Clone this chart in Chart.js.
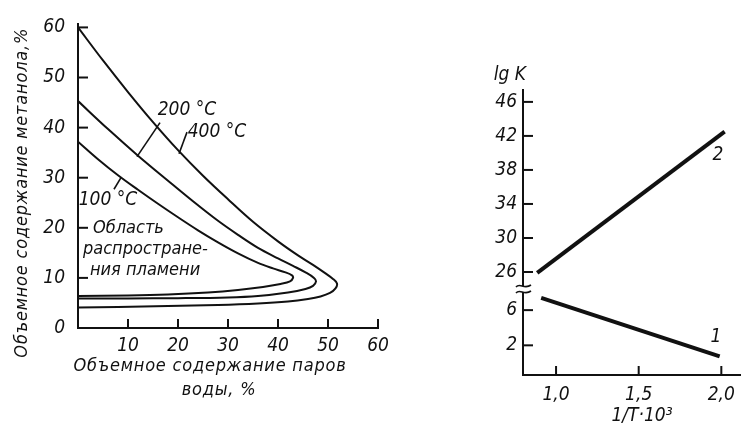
<!DOCTYPE html>
<html>
<head>
<meta charset="utf-8">
<script src="https://cdn.jsdelivr.net/npm/chart.js@4.4.1/dist/chart.umd.min.js"></script>
<style>
  html, body { margin: 0; padding: 0; background: #fff; }
  #wrap { position: relative; width: 744px; height: 427px; overflow: hidden; }
  .panel { position: absolute; top: 0; height: 427px; }
</style>
</head>
<body>
<div id="wrap">
  <div class="panel" style="left:0;width:400px"><canvas id="flame"></canvas></div>
  <div class="panel" style="left:440px;width:304px"><canvas id="lgk"></canvas></div>
</div>
<script>
const FONT = "'DejaVu Sans Condensed', 'Liberation Sans Narrow', sans-serif";
const INK = "#111";

// left panel: flame region, water vapour % (x) vs methanol % (y)
const waterTicks = [10, 20, 30, 40, 50, 60];
const methanolTicks = [0, 10, 20, 30, 40, 50, 60];

const water400 = [0, 5, 10, 15, 20, 25, 30, 35, 40, 44, 47, 49.5, 51, 51.8, 51.5, 50.4, 48.5, 46, 42, 36, 28, 18, 8, 0];
const methanol400 = [60, 53.4, 47.1, 41.1, 35.5, 30.4, 25.7, 21.2, 17.3, 14.5, 12.6, 10.9, 9.8, 8.9, 7.9, 7.0, 6.3, 5.8, 5.3, 4.9, 4.6, 4.4, 4.2, 4.1];

const water200 = [0, 6, 12, 18, 23, 28, 32, 36, 40, 43, 45.5, 47.2, 47.6, 47, 45.5, 42, 36, 30, 20, 10, 0];
const methanol200 = [45.3, 39.7, 34.4, 29.4, 25.3, 21.4, 18.6, 16.0, 13.9, 12.4, 11.1, 10.0, 9.3, 8.4, 7.8, 7.1, 6.4, 6.1, 5.95, 5.9, 5.9];

const water100 = [0, 4, 8, 12, 16, 20, 24, 28, 32, 36, 39, 41.5, 42.8, 43, 42.4, 40.5, 37, 32, 26, 18, 10, 0];
const methanol100 = [37.2, 33.7, 30.5, 27.6, 24.8, 22.1, 19.5, 17.1, 14.9, 13.0, 11.9, 11.1, 10.5, 10.0, 9.3, 8.8, 8.2, 7.6, 7.1, 6.7, 6.5, 6.4];

// right panel: lg K vs 1/T*10^3
const invTTicks = [1.0, 1.5, 2.0];
const lgkUpperTicks = [26, 30, 34, 38, 42, 46];
const lgkLowerTicks = [2, 6];

const invT1 = [0.91, 1.99];
const lgk1 = [7.4, 0.75];
const invT2 = [0.886, 2.02];
const lgk2 = [25.9, 42.5];

const toPoints = (xs, ys) => xs.map((x, i) => ({ x: x, y: ys[i] }));
const fixTicks = (list) => (scale) => { scale.ticks = list.map(v => ({ value: v })); };
const tickFont = { family: FONT, size: 19, style: "italic" };

// tick marks pointing into the plot, like the printed figure
const inwardTicks = {
  id: "inwardTicks",
  afterDraw(chart) {
    const ctx = chart.ctx;
    ctx.save();
    ctx.strokeStyle = INK;
    ctx.lineWidth = 2;
    Object.values(chart.scales).forEach(s => {
      if (!s.options.display) return;
      s.ticks.forEach(t => {
        const p = s.getPixelForValue(t.value);
        ctx.beginPath();
        if (s.isHorizontal()) {
          ctx.moveTo(p, s.top);
          ctx.lineTo(p, s.top - 9);
        } else {
          ctx.moveTo(s.right, p);
          ctx.lineTo(s.right + 10, p);
        }
        ctx.stroke();
      });
    });
    ctx.restore();
  }
};

// free text and pointer lines, placed in data units
const notes = (texts, lines, extra) => ({
  id: "notes",
  afterDraw(chart) {
    const ctx = chart.ctx;
    ctx.save();
    ctx.fillStyle = INK;
    ctx.strokeStyle = INK;
    ctx.lineWidth = 1.6;
    lines.forEach(l => {
      const xs = chart.scales.x, ys = chart.scales[l.ys || "y"];
      ctx.beginPath();
      ctx.moveTo(xs.getPixelForValue(l.x1), ys.getPixelForValue(l.y1));
      ctx.lineTo(xs.getPixelForValue(l.x2), ys.getPixelForValue(l.y2));
      ctx.stroke();
    });
    texts.forEach(t => {
      const xs = chart.scales.x, ys = chart.scales[t.ys || "y"];
      ctx.save();
      ctx.translate(xs.getPixelForValue(t.x), ys.getPixelForValue(t.y));
      if (t.rotate) ctx.rotate(t.rotate);
      ctx.font = "italic " + (t.size || 19) + "px " + FONT;
      ctx.letterSpacing = (t.spacing || 0) + "px";
      ctx.textAlign = t.align || "center";
      ctx.textBaseline = "middle";
      ctx.fillText(t.text, 0, 0);
      ctx.restore();
    });
    if (extra) extra(chart, ctx);
    ctx.restore();
  }
});

const curve = (xs, ys) => ({
  data: toPoints(xs, ys),
  showLine: true,
  borderColor: INK,
  borderWidth: 2,
  tension: 0.35,
  pointRadius: 0
});

new Chart(document.getElementById("flame"), {
  type: "scatter",
  data: {
    datasets: [curve(water100, methanol100), curve(water200, methanol200), curve(water400, methanol400)]
  },
  options: {
    responsive: true,
    maintainAspectRatio: false,
    animation: false,
    layout: { padding: { top: 15, right: 22, left: 0, bottom: 0 } },
    plugins: { legend: { display: false }, tooltip: { enabled: false } },
    scales: {
      x: {
        type: "linear", min: 0, max: 60,
        afterFit: s => { s.height = 99; },
        afterBuildTicks: fixTicks(waterTicks),
        grid: { display: false, drawTicks: false },
        border: { display: true, color: INK, width: 2 },
        ticks: { color: INK, font: tickFont, padding: 7, maxRotation: 0, autoSkip: false }
      },
      y: {
        type: "linear", min: 0, max: 60.6,
        afterFit: s => { s.width = 78; },
        afterBuildTicks: fixTicks(methanolTicks),
        grid: { display: false, drawTicks: false },
        border: { display: true, color: INK, width: 2 },
        ticks: { color: INK, font: tickFont, padding: 13, autoSkip: false }
      }
    }
  },
  plugins: [inwardTicks, notes([
    { text: "200 °C", x: 21.8, y: 43.5 },
    { text: "400 °C", x: 27.8, y: 39.1 },
    { text: "100 °C", x: 6, y: 25.5 },
    { text: "Область", x: 3, y: 19.9, align: "left", size: 18 },
    { text: "распростране-", x: 1, y: 15.7, align: "left", size: 18 },
    { text: "ния пламени", x: 2.4, y: 11.6, align: "left", size: 18 },
    { text: "Объемное содержание метанола,%", x: -11.2, y: 27, rotate: -Math.PI / 2, size: 18, spacing: 0.8 },
    { text: "Объемное содержание паров", x: 26.4, y: -7.7, size: 18, spacing: 0.8 },
    { text: "воды, %", x: 28.2, y: -12.4, size: 18, spacing: 0.8 }
  ], [
    { x1: 16.4, y1: 41, x2: 11.8, y2: 34.2 },
    { x1: 21.8, y1: 39.1, x2: 20.2, y2: 34.8 },
    { x1: 8.6, y1: 30, x2: 7.2, y2: 27.7 }
  ])]
});

// broken lg K axis: two stacked y scales
const axisBreak = (chart, ctx) => {
  const top = chart.scales.yTop;
  const ax = top.right;
  const y0 = top.bottom;
  ctx.fillStyle = "#fff";
  ctx.fillRect(ax - 3, y0 - 3, 6, 6);
  ctx.strokeStyle = INK;
  ctx.lineWidth = 1.6;
  [-3, 3].forEach(d => {
    const y = y0 + d;
    ctx.beginPath();
    ctx.moveTo(ax - 7, y + 1);
    ctx.bezierCurveTo(ax - 3, y - 4, ax + 1, y + 4, ax + 8, y - 1);
    ctx.stroke();
  });
};

new Chart(document.getElementById("lgk"), {
  type: "scatter",
  data: {
    datasets: [
      { data: toPoints(invT2, lgk2), yAxisID: "yTop", showLine: true, borderColor: INK, borderWidth: 4, pointRadius: 0 },
      { data: toPoints(invT1, lgk1), yAxisID: "yBot", showLine: true, borderColor: INK, borderWidth: 4, pointRadius: 0 }
    ]
  },
  options: {
    responsive: true,
    maintainAspectRatio: false,
    animation: false,
    layout: { padding: { top: 90, right: 1, left: 0, bottom: 0 } },
    plugins: { legend: { display: false }, tooltip: { enabled: false } },
    scales: {
      x: {
        type: "linear", min: 0.8, max: 2.117,
        afterFit: s => { s.height = 52; },
        afterBuildTicks: fixTicks(invTTicks),
        grid: { display: false, drawTicks: false },
        border: { display: true, color: INK, width: 2 },
        ticks: { color: INK, font: tickFont, padding: 9, maxRotation: 0, autoSkip: false,
                 callback: v => v.toFixed(1).replace(".", ",") }
      },
      yBot: {
        type: "linear", position: "left", stack: "lgk", stackWeight: 86, weight: 1,
        min: -1.37, max: 8.4,
        afterFit: s => { s.width = 83; },
        afterBuildTicks: fixTicks(lgkLowerTicks),
        grid: { display: false, drawTicks: false },
        border: { display: true, color: INK, width: 2 },
        ticks: { color: INK, font: tickFont, padding: 6, autoSkip: false }
      },
      yTop: {
        type: "linear", position: "left", stack: "lgk", stackWeight: 199, weight: 2,
        min: 24.0, max: 47.4,
        afterFit: s => { s.width = 83; },
        afterBuildTicks: fixTicks(lgkUpperTicks),
        grid: { display: false, drawTicks: false },
        border: { display: true, color: INK, width: 2 },
        ticks: { color: INK, font: tickFont, padding: 6, autoSkip: false }
      }
    }
  },
  plugins: [inwardTicks, notes([
    { text: "lg K", x: 0.72, y: 49.2, ys: "yTop", size: 19 },
    { text: "2", x: 1.98, y: 39.8, ys: "yTop" },
    { text: "1", x: 1.968, y: 2.9, ys: "yBot" },
    { text: "1/T·10³", x: 1.52, y: -6, ys: "yBot", size: 19 }
  ], [], axisBreak)]
});
</script>
</body>
</html>
